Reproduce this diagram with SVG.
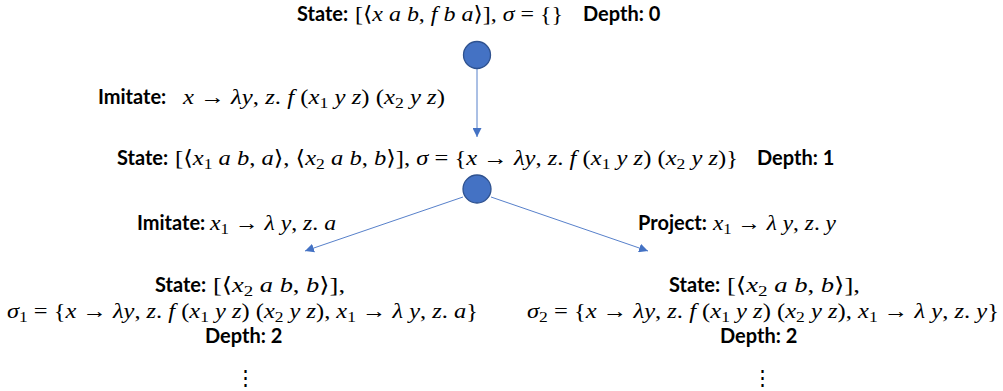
<svg xmlns="http://www.w3.org/2000/svg" width="1003" height="391" viewBox="0 0 1003 391">
<style>
.lb{font-family:Lato,"Open Sans","Liberation Sans",sans-serif;font-weight:bold;font-size:20px;fill:#000}
.m{font-family:"Liberation Serif","DejaVu Serif",serif;font-size:21px;fill:#000}
.i{font-style:italic}
.s{font-size:15px}
.node{fill:#4472C4;stroke:#2F528F;stroke-width:1.3}
.edge{stroke:#4472C4;stroke-width:0.9;fill:none;marker-end:url(#ah)}
</style>
<defs>
<marker id="ah" viewBox="0 0 10 10" refX="10" refY="5" markerWidth="9" markerHeight="9" markerUnits="userSpaceOnUse" orient="auto">
<path d="M0,0 L10,5 L0,10 z" fill="#4472C4"/>
</marker>
</defs>
<g id="connectors">
<line class="edge" x1="477" y1="69" x2="477" y2="137"/>
<line class="edge" x1="463" y1="197" x2="305" y2="251"/>
<line class="edge" x1="491" y1="197" x2="648" y2="251"/>
</g>
<g id="node0">
<circle class="node" cx="477" cy="55" r="13.5"/>
<text class="lb" x="297" y="21">State:</text>
<text class="m" x="355" y="21" textLength="208" lengthAdjust="spacingAndGlyphs">[⟨<tspan class="i">x a b</tspan>, <tspan class="i">f b a</tspan>⟩],  <tspan class="i">σ</tspan> =  {}</text>
<text class="lb" x="583" y="21">Depth: 0</text>
</g>
<g id="label-imitate0">
<text class="lb" x="98" y="104">Imitate:</text>
<text class="m" x="183" y="104" textLength="262" lengthAdjust="spacingAndGlyphs"><tspan class="i">x</tspan> → <tspan class="i">λy</tspan>, <tspan class="i">z</tspan>. <tspan class="i">f</tspan> (<tspan class="i">x</tspan><tspan class="s" dy="4">1</tspan><tspan dy="-4"> </tspan><tspan class="i">y z</tspan>) (<tspan class="i">x</tspan><tspan class="s" dy="4">2</tspan><tspan dy="-4"> </tspan><tspan class="i">y z</tspan>)</text>
</g>
<g id="node1">
<circle class="node" cx="477" cy="189" r="14"/>
<text class="lb" x="117" y="165">State:</text>
<text class="m" x="175" y="165" textLength="563" lengthAdjust="spacingAndGlyphs">[⟨<tspan class="i">x</tspan><tspan class="s" dy="4">1</tspan><tspan dy="-4"> </tspan><tspan class="i">a b</tspan>, <tspan class="i">a</tspan>⟩, ⟨<tspan class="i">x</tspan><tspan class="s" dy="4">2</tspan><tspan dy="-4"> </tspan><tspan class="i">a b</tspan>, <tspan class="i">b</tspan>⟩],  <tspan class="i">σ</tspan> =  {<tspan class="i">x</tspan> → <tspan class="i">λy</tspan>, <tspan class="i">z</tspan>. <tspan class="i">f</tspan> (<tspan class="i">x</tspan><tspan class="s" dy="4">1</tspan><tspan dy="-4"> </tspan><tspan class="i">y z</tspan>) (<tspan class="i">x</tspan><tspan class="s" dy="4">2</tspan><tspan dy="-4"> </tspan><tspan class="i">y z</tspan>)}</text>
<text class="lb" x="757" y="165">Depth: 1</text>
</g>
<g id="label-imitate1">
<text class="lb" x="137" y="230">Imitate:</text>
<text class="m" x="210" y="230" textLength="126" lengthAdjust="spacingAndGlyphs"><tspan class="i">x</tspan><tspan class="s" dy="4">1</tspan><tspan dy="-4"> → </tspan><tspan class="i">λ y</tspan>, <tspan class="i">z</tspan>. <tspan class="i">a</tspan></text>
</g>
<g id="label-project1">
<text class="lb" x="638" y="230">Project:</text>
<text class="m" x="713" y="230" textLength="123" lengthAdjust="spacingAndGlyphs"><tspan class="i">x</tspan><tspan class="s" dy="4">1</tspan><tspan dy="-4"> → </tspan><tspan class="i">λ y</tspan>, <tspan class="i">z</tspan>. <tspan class="i">y</tspan></text>
</g>
<g id="node2a">
<text class="lb" x="155" y="292">State:</text>
<text class="m" x="213" y="292" textLength="132" lengthAdjust="spacingAndGlyphs">[⟨<tspan class="i">x</tspan><tspan class="s" dy="4">2</tspan><tspan dy="-4"> </tspan><tspan class="i">a b</tspan>, <tspan class="i">b</tspan>⟩],</text>
<text class="m" x="7" y="318" textLength="471" lengthAdjust="spacingAndGlyphs"><tspan class="i">σ</tspan><tspan class="s" dy="4">1</tspan><tspan dy="-4"> =  {</tspan><tspan class="i">x</tspan> → <tspan class="i">λy</tspan>, <tspan class="i">z</tspan>. <tspan class="i">f</tspan> (<tspan class="i">x</tspan><tspan class="s" dy="4">1</tspan><tspan dy="-4"> </tspan><tspan class="i">y z</tspan>) (<tspan class="i">x</tspan><tspan class="s" dy="4">2</tspan><tspan dy="-4"> </tspan><tspan class="i">y z</tspan>), <tspan class="i">x</tspan><tspan class="s" dy="4">1</tspan><tspan dy="-4"> → </tspan><tspan class="i">λ y</tspan>, <tspan class="i">z</tspan>. <tspan class="i">a</tspan>}</text>
<text class="lb" x="205" y="343">Depth: 2</text>
<text class="m" x="245" y="385" text-anchor="middle">⋮</text>
</g>
<g id="node2b">
<text class="lb" x="669" y="292">State:</text>
<text class="m" x="727" y="292" textLength="133" lengthAdjust="spacingAndGlyphs">[⟨<tspan class="i">x</tspan><tspan class="s" dy="4">2</tspan><tspan dy="-4"> </tspan><tspan class="i">a b</tspan>, <tspan class="i">b</tspan>⟩],</text>
<text class="m" x="527" y="318" textLength="472" lengthAdjust="spacingAndGlyphs"><tspan class="i">σ</tspan><tspan class="s" dy="4">2</tspan><tspan dy="-4"> =  {</tspan><tspan class="i">x</tspan> → <tspan class="i">λy</tspan>, <tspan class="i">z</tspan>. <tspan class="i">f</tspan> (<tspan class="i">x</tspan><tspan class="s" dy="4">1</tspan><tspan dy="-4"> </tspan><tspan class="i">y z</tspan>) (<tspan class="i">x</tspan><tspan class="s" dy="4">2</tspan><tspan dy="-4"> </tspan><tspan class="i">y z</tspan>), <tspan class="i">x</tspan><tspan class="s" dy="4">1</tspan><tspan dy="-4"> → </tspan><tspan class="i">λ y</tspan>, <tspan class="i">z</tspan>. <tspan class="i">y</tspan>}</text>
<text class="lb" x="720" y="343">Depth: 2</text>
<text class="m" x="762" y="385" text-anchor="middle">⋮</text>
</g>
</svg>
